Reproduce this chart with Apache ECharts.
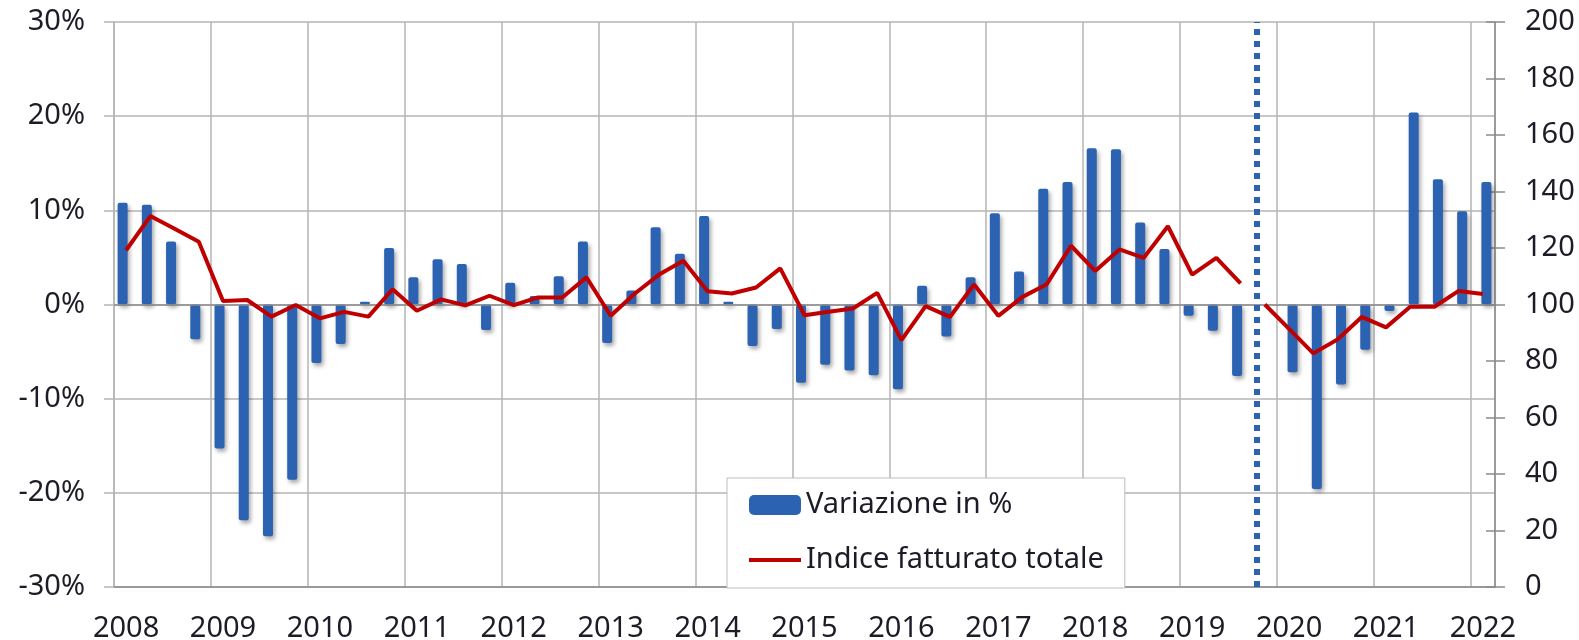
<!DOCTYPE html>
<html lang="it">
<head>
    <meta charset="UTF-8">
    <title>Fatturato - variazione e indice</title>
    <script src="https://cdn.jsdelivr.net/npm/echarts@6/dist/echarts.min.js"></script>
    <style>
        html, body { margin: 0; padding: 0; background: #fff; }
    </style>
</head>
<body>
    <div id="main" style="width:1579px;height:640px;"></div>
</body>
<script>

    // anni e trimestri dell'asse orizzontale (2008 T1 ... 2022 T1)
    var anni = [2008, 2009, 2010, 2011, 2012, 2013, 2014, 2015, 2016, 2017, 2018, 2019, 2020, 2021, 2022];
    var trimestri = ['T1', 'T2', 'T3', 'T4'];

    // variazione in % - vecchia base, 2008 T1 - 2019 T3
    var varPrima = [10.8, 10.6, 6.7, -3.7, -15.3, -22.9, -24.6, -18.6, -6.2, -4.2, 0.3, 6.0,
        2.9, 4.8, 4.3, -2.7, 2.3, 0.9, 3.0, 6.7, -4.1, 1.5, 8.2, 5.4,
        9.4, 0.3, -4.4, -2.6, -8.3, -6.4, -7.0, -7.5, -9.0, 2.0, -3.4, 2.9,
        9.7, 3.5, 12.3, 13.0, 16.6, 16.5, 8.7, 5.9, -1.2, -2.8, -7.6];
    // variazione in % - nuova base, 2020 T1 - 2022 T1
    var varDopo = [-7.2, -19.6, -8.5, -4.8, -0.7, 20.4, 13.3, 9.9, 13.0];

    // indice fatturato totale - vecchia base, 2008 T1 - 2019 T3
    var indicePrima = [119.2, 131.3, 126.8, 122.2, 101.2, 101.6, 95.7, 99.8, 95.1, 97.4, 95.7, 105.4,
        97.8, 101.8, 99.7, 103.1, 99.8, 102.5, 102.5, 109.6, 96.0, 103.9, 110.6, 115.5,
        104.7, 103.9, 106.0, 112.8, 96.2, 97.4, 98.6, 104.1, 87.4, 99.4, 95.6, 107.1,
        96.0, 102.7, 107.2, 120.8, 111.9, 119.5, 116.5, 127.7, 110.6, 116.5, 107.5];
    // indice fatturato totale - nuova base, 2019 T4 - 2022 T1
    var indiceDopo = [100, 91.4, 82.7, 87.6, 95.6, 91.9, 99.2, 99.2, 104.8, 103.7];

    // posizione della linea tratteggiata di cambio base (in trimestri dall'inizio)
    var cambioBase = 47.15;

    var categorie = [];
    for (var i = 0; i < anni.length; i++) {
        for (var q = 0; q < 4; q++) {
            if (anni[i] === 2022 && q > 0) break;
            categorie.push(anni[i] + ' ' + trimestri[q]);
        }
    }
    var n = categorie.length;

    // riempie con null fino a occupare tutte le categorie
    function allinea(valori, inizio) {
        var out = [];
        for (var k = 0; k < n; k++) {
            var j = k - inizio;
            out.push(j >= 0 && j < valori.length ? valori[j] : null);
        }
        return out;
    }

    var blu = '#2B63B2';
    var rosso = '#C00000';
    var testo = '#1c1c28';
    var griglia = '#b5b5b5';
    var asse = '#8c8c8c';
    var font = 'Noto Sans';

    var myChart = echarts.init(document.getElementById('main'));

    var stileBarre = {
        color: blu,
        borderRadius: 2,
        shadowColor: 'rgba(0,0,0,0.35)',
        shadowBlur: 4,
        shadowOffsetX: 2,
        shadowOffsetY: 3
    };

    var option = {
        animation: false,
        textStyle: { fontFamily: font },
        grid: { left: 114, right: 84, top: 22, height: 565, containLabel: false, outerBoundsMode: 'none' },
        legend: {
            data: [
                { name: 'Variazione in %', icon: 'roundRect' },
                {
                    name: 'Indice fatturato totale',
                    itemStyle: { opacity: 0 },
                    lineStyle: { color: rosso, width: 4 }
                }
            ],
            orient: 'vertical',
            left: 727,
            top: 478,
            padding: [12, 21, 13, 20],
            itemWidth: 52,
            itemHeight: 20,
            itemGap: 25,
            backgroundColor: '#fff',
            borderColor: '#bdbdbd',
            borderWidth: 1,
            borderRadius: 0,
            textStyle: { fontFamily: font, fontSize: 29, color: testo, lineHeight: 30 }
        },
        xAxis: [
            {
                type: 'category',
                data: categorie,
                boundaryGap: true,
                axisLine: { show: true, onZero: false, lineStyle: { color: asse, width: 1.5 } },
                axisTick: { show: false },
                axisLabel: {
                    interval: 3,
                    margin: 27,
                    fontSize: 29,
                    color: testo,
                    fontFamily: font,
                    formatter: function (v) { return v.split(' ')[0]; }
                },
                splitLine: { show: true, interval: 3, lineStyle: { color: griglia, width: 1.5 } }
            },
            {
                type: 'value',
                min: 0,
                max: n,
                show: false
            }
        ],
        yAxis: [
            {
                type: 'value',
                min: -30,
                max: 30,
                interval: 10,
                axisLine: { show: true, lineStyle: { color: griglia, width: 1.5 } },
                axisTick: { show: true, length: 10, lineStyle: { color: griglia, width: 1.5 } },
                axisLabel: { formatter: '{value}%', fontSize: 29, color: testo, margin: 29, fontFamily: font },
                splitLine: { show: true, lineStyle: { color: griglia, width: 1.5 } }
            },
            {
                type: 'value',
                position: 'right',
                min: 0,
                max: 200,
                interval: 20,
                axisLine: { show: true, lineStyle: { color: asse, width: 1.5 } },
                axisTick: { show: true, length: 10, lineStyle: { color: asse, width: 1.5 } },
                axisLabel: { fontSize: 29, color: testo, margin: 30, fontFamily: font },
                splitLine: { show: false }
            },
            {
                // solo per le tacche interne dell'asse destro
                type: 'value',
                position: 'right',
                min: 0,
                max: 200,
                interval: 20,
                axisLine: { show: false },
                axisTick: { show: true, inside: true, length: 9, lineStyle: { color: asse, width: 1.5 } },
                axisLabel: { show: false },
                splitLine: { show: false }
            }
        ],
        series: [
            {
                name: 'Variazione in %',
                type: 'bar',
                barWidth: 10,
                barGap: '-30%',
                data: allinea(varPrima, 0),
                itemStyle: stileBarre,
                markLine: {
                    silent: true,
                    symbol: 'none',
                    label: { show: false },
                    lineStyle: { color: asse, width: 1.5, type: 'solid' },
                    data: [{ yAxis: 0 }]
                }
            },
            {
                name: 'Variazione in %',
                type: 'bar',
                barWidth: 10,
                barGap: '-30%',
                data: allinea(varDopo, 48),
                itemStyle: stileBarre
            },
            {
                name: 'Indice fatturato totale',
                type: 'line',
                yAxisIndex: 1,
                symbol: 'none',
                data: allinea(indicePrima, 0),
                lineStyle: { color: rosso, width: 4 },
                itemStyle: { color: rosso },
                z: 5
            },
            {
                name: 'Indice fatturato totale',
                type: 'line',
                yAxisIndex: 1,
                symbol: 'none',
                data: allinea(indiceDopo, 47),
                lineStyle: { color: rosso, width: 4 },
                itemStyle: { color: rosso },
                z: 5
            },
            {
                name: 'separatore',
                type: 'line',
                xAxisIndex: 1,
                data: [],
                markLine: {
                    silent: true,
                    symbol: 'none',
                    label: { show: false },
                    lineStyle: { color: blu, width: 6, type: [6, 6] },
                    data: [{ xAxis: cambioBase }]
                },
                z: 4
            }
        ]
    };

    myChart.setOption(option);

</script>
</html>
